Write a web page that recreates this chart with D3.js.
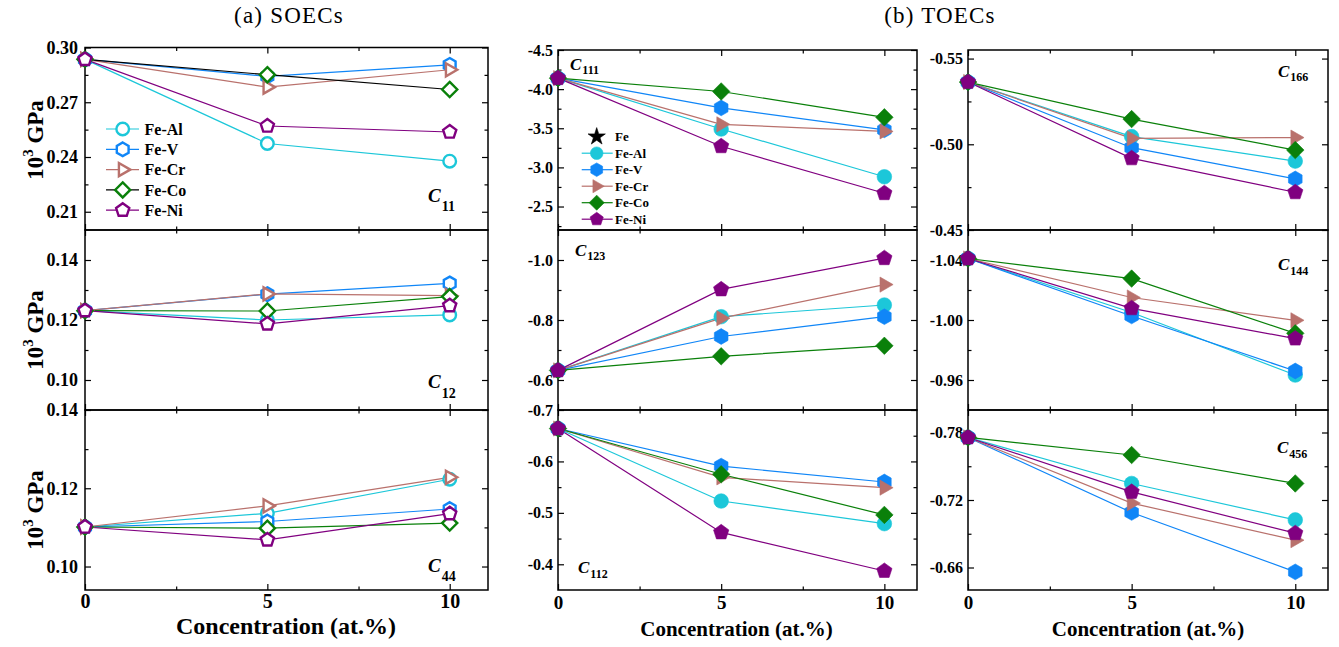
<!DOCTYPE html>
<html>
<head>
<meta charset="utf-8">
<script src="https://cdn.jsdelivr.net/npm/d3@7"></script>
<style>
  body { margin: 0; background: #fff; }
  svg { display: block; }
  .frame { fill: none; stroke: #000; stroke-width: 1.5px; }
  .tick line { stroke: #000; stroke-width: 1.2px; }
  .domain { display: none; }
</style>
</head>
<body>
<svg id="chart" width="1339" height="647"></svg>
<script>
// concentration (at.%) and alloy series
var conc = [0, 5, 10];
var alloys = ["Fe-Al", "Fe-V", "Fe-Cr", "Fe-Co", "Fe-Ni"];
var colors = ["#1cc7d9", "#1086f7", "#b9716c", "#0a800a", "#800080"];
var shapes = ["circle", "hexagon", "triangle", "diamond", "pentagon"];

// SOECs (10^3 GPa), one row per alloy, one value per concentration
var c11 = [[0.2935, 0.2474, 0.2377], [0.2935, 0.2842, 0.2905], [0.2935, 0.2783, 0.2878], [0.2935, 0.2851, 0.2770], [0.2935, 0.2570, 0.2537]];
var c12 = [[0.1231, 0.1200, 0.1217], [0.1231, 0.1286, 0.1322], [0.1231, 0.1287, 0.1281], [0.1231, 0.1230, 0.1278], [0.1231, 0.1187, 0.1248]];
var c44 = [[0.1101, 0.1136, 0.1223], [0.1101, 0.1115, 0.1147], [0.1101, 0.1155, 0.1228], [0.1101, 0.1098, 0.1111], [0.1101, 0.1068, 0.1135]];

// TOECs
var c111 = [[-4.14, -3.49, -2.88], [-4.14, -3.76, -3.48], [-4.14, -3.55, -3.46], [-4.14, -3.97, -3.64], [-4.14, -3.27, -2.67]];
var c123 = [[-0.632, -0.811, -0.850], [-0.632, -0.745, -0.811], [-0.632, -0.806, -0.918], [-0.632, -0.679, -0.714], [-0.632, -0.902, -1.006]];
var c112 = [[-0.664, -0.523, -0.479], [-0.664, -0.591, -0.560], [-0.664, -0.569, -0.549], [-0.664, -0.575, -0.496], [-0.664, -0.462, -0.387]];
var c166 = [[-0.5363, -0.5045, -0.4902], [-0.5363, -0.4980, -0.4798], [-0.5363, -0.5035, -0.5039], [-0.5363, -0.5147, -0.4966], [-0.5363, -0.4918, -0.4720]];
var c144 = [[-1.041, -1.005, -0.9633], [-1.041, -1.0027, -0.9660], [-1.041, -1.015, -0.9998], [-1.041, -1.0276, -0.9911], [-1.041, -1.0078, -0.9876]];
var c456 = [[-0.7756, -0.7347, -0.7023], [-0.7756, -0.7089, -0.6561], [-0.7756, -0.7172, -0.6843], [-0.7756, -0.7600, -0.7347], [-0.7756, -0.7272, -0.6905]];

// tick labels
var xTicks = [0, 5, 10], xMinor = [2.5, 7.5];
var c11Ticks = [0.21, 0.24, 0.27, 0.30], c11Minor = [0.225, 0.255, 0.285];
var c12Ticks = [0.10, 0.12, 0.14], c12Minor = [0.11, 0.13];
var c44Ticks = [0.10, 0.12, 0.14], c44Minor = [0.11, 0.13];
var c111Ticks = [-4.5, -4.0, -3.5, -3.0, -2.5], c111Minor = [-4.25, -3.75, -3.25, -2.75, -2.25];
var c123Ticks = [-1.0, -0.8, -0.6], c123Minor = [-0.9, -0.7];
var c112Ticks = [-0.7, -0.6, -0.5, -0.4], c112Minor = [-0.65, -0.55, -0.45];
var c166Ticks = [-0.55, -0.50, -0.45], c166Minor = [-0.525, -0.475];
var c144Ticks = [-1.04, -1.00, -0.96], c144Minor = [-1.02, -0.98];
var c456Ticks = [-0.78, -0.72, -0.66], c456Minor = [-0.75, -0.69];

var serif = "'Liberation Serif', 'Times New Roman', serif";
var svg = d3.select("#chart");

/// columns: pixel extent + x domain + font sizes
var cols = [
  {x0: 85, x1: 488, xmax: 11.05, open: true, ylab: 18, pad: 7, xlabBase: 608, xlabSize: 20, titleSize: 24, titleBase: 634},
  {x0: 558, x1: 917, xmax: 11, open: false, ylab: 16, pad: 5, xlabBase: 609, xlabSize: 19, titleSize: 21, titleBase: 636},
  {x0: 968, x1: 1328, xmax: 11, open: false, ylab: 16, pad: 5, xlabBase: 609, xlabSize: 19, titleSize: 21, titleBase: 636}
];

var panels = [
  {col: 0, top: 47.5, bot: 230, dom: [0.30, 0.20], data: c11, ticks: c11Ticks, minor: c11Minor, fmt: 2, name: "11", cx: 428, cy: 201.5, coLine: "#000"},
  {col: 0, top: 230, bot: 410, dom: [0.15, 0.09], data: c12, ticks: c12Ticks, minor: c12Minor, fmt: 2, name: "12", cx: 428, cy: 388},
  {col: 0, top: 410, bot: 590, dom: [0.14, 0.094], data: c44, ticks: c44Ticks, minor: c44Minor, fmt: 2, name: "44", cx: 428, cy: 571.5},
  {col: 1, top: 50, bot: 230, dom: [-4.5, -2.2], data: c111, ticks: c111Ticks, minor: c111Minor, fmt: 1, name: "111", cx: 570, cy: 69.5},
  {col: 1, top: 230, bot: 410, dom: [-1.1, -0.5], data: c123, ticks: c123Ticks, minor: c123Minor, fmt: 1, name: "123", cx: 575, cy: 255.5},
  {col: 1, top: 410, bot: 590, dom: [-0.7, -0.35], data: c112, ticks: c112Ticks, minor: c112Minor, fmt: 1, name: "112", cx: 578, cy: 573},
  {col: 2, top: 50, bot: 230, dom: [-0.555, -0.45], data: c166, ticks: c166Ticks, minor: c166Minor, fmt: 2, name: "166", cx: 1278, cy: 76.5},
  {col: 2, top: 230, bot: 410, dom: [-1.06, -0.94], data: c144, ticks: c144Ticks, minor: c144Minor, fmt: 2, name: "144", cx: 1278, cy: 270},
  {col: 2, top: 410, bot: 590, dom: [-0.80, -0.64], data: c456, ticks: c456Ticks, minor: c456Minor, fmt: 2, name: "456", cx: 1277, cy: 453}
];

/// marker shapes as path strings
function polygon(n, r, a0) {
  var p = [];
  for (var k = 0; k < n; k++) {
    var a = a0 + k * 2 * Math.PI / n;
    p.push([r * Math.cos(a), r * Math.sin(a)]);
  }
  return "M" + p.map(function(d){ return d[0].toFixed(2) + "," + d[1].toFixed(2); }).join("L") + "Z";
}
function shapePath(type, r) {
  if (type == "circle") return d3.symbol(d3.symbolCircle, Math.PI * r * r)();
  if (type == "hexagon") return polygon(6, r * 1.08, -Math.PI / 2);
  if (type == "triangle") return polygon(3, r * 1.2, 0);
  if (type == "diamond") return polygon(4, r * 1.2, -Math.PI / 2);
  if (type == "pentagon") return polygon(5, r * 1.1, -Math.PI / 2);
  if (type == "star") return d3.symbol(d3.symbolStar, r * r * 2.2)();
}
function drawMarker(g, type, color, open, r) {
  return g.append("path")
    .attr("d", shapePath(type, r))
    .attr("fill", open ? "#fff" : color)
    .attr("stroke", color)
    .attr("stroke-width", open ? 2.4 : 0.6)
    .attr("stroke-linejoin", "miter");
}

panels.forEach(function(p) {
  var c = cols[p.col];
  var x = d3.scaleLinear().domain([0, c.xmax]).range([c.x0, c.x1]);
  var y = d3.scaleLinear().domain(p.dom).range([p.top, p.bot]);
  var g = svg.append("g");
  var fmt = function(d){ return d.toFixed(p.fmt); };

  /// axes, ticks point inward on all four sides
  var left = g.append("g").attr("transform", "translate(" + c.x0 + ",0)")
    .call(d3.axisLeft(y).tickValues(p.ticks).tickSizeInner(-6).tickSizeOuter(0).tickPadding(c.pad).tickFormat(fmt));
  left.selectAll("text").attr("font-family", serif).attr("font-weight", "bold").attr("font-size", c.ylab).attr("fill", "#000");
  g.append("g").attr("transform", "translate(" + c.x0 + ",0)")
    .call(d3.axisLeft(y).tickValues(p.minor).tickSizeInner(-3.5).tickSizeOuter(0).tickFormat(""));
  g.append("g").attr("transform", "translate(" + c.x1 + ",0)")
    .call(d3.axisRight(y).tickValues(p.ticks).tickSizeInner(-6).tickSizeOuter(0).tickFormat(""));
  g.append("g").attr("transform", "translate(" + c.x1 + ",0)")
    .call(d3.axisRight(y).tickValues(p.minor).tickSizeInner(-3.5).tickSizeOuter(0).tickFormat(""));
  g.append("g").attr("transform", "translate(0," + p.top + ")")
    .call(d3.axisTop(x).tickValues(xTicks).tickSizeInner(-6).tickSizeOuter(0).tickFormat(""));
  g.append("g").attr("transform", "translate(0," + p.top + ")")
    .call(d3.axisTop(x).tickValues(xMinor).tickSizeInner(-3.5).tickSizeOuter(0).tickFormat(""));
  var bottom = g.append("g").attr("transform", "translate(0," + p.bot + ")")
    .call(d3.axisBottom(x).tickValues(xTicks).tickSizeInner(-6).tickSizeOuter(0).tickPadding(10)
      .tickFormat(p.bot == 590 ? d3.format("d") : ""));
  bottom.selectAll("text").attr("font-family", serif).attr("font-weight", "bold").attr("font-size", c.xlabSize).attr("fill", "#000")
    .attr("dy", null).attr("y", c.xlabBase - p.bot);
  g.append("g").attr("transform", "translate(0," + p.bot + ")")
    .call(d3.axisBottom(x).tickValues(xMinor).tickSizeInner(-3.5).tickSizeOuter(0).tickFormat(""));

  g.append("rect").attr("class", "frame")
    .attr("x", c.x0).attr("y", p.top).attr("width", c.x1 - c.x0).attr("height", p.bot - p.top);

  /// series lines
  var line = d3.line().x(function(d, i){ return x(conc[i]); }).y(function(d){ return y(d); });
  p.data.forEach(function(vals, s) {
    var col = colors[s];
    if (s == 3 && p.coLine) col = p.coLine;
    g.append("path").datum(vals).attr("d", line)
      .attr("fill", "none").attr("stroke", col).attr("stroke-width", 1.2);
  });
  /// markers
  p.data.forEach(function(vals, s) {
    vals.forEach(function(v, i) {
      drawMarker(g, shapes[s], colors[s], c.open, c.open ? 6.3 : 7.3)
        .attr("transform", "translate(" + x(conc[i]) + "," + y(v) + ")");
    });
  });

  /// panel label C_ij
  var big = c.open ? 19 : 17, small = c.open ? 14 : 12;
  var t = g.append("text").attr("x", p.cx).attr("y", p.cy)
    .attr("font-family", serif).attr("font-weight", "bold");
  t.append("tspan").attr("font-style", "italic").attr("font-size", big).text("C");
  t.append("tspan").attr("font-size", small).attr("dx", 1).attr("dy", c.open ? 9.5 : 4.5).text(p.name);
});

/// x axis titles
cols.forEach(function(c) {
  svg.append("text").attr("x", c.open ? 286 : (c.x0 + c.x1) / 2 + (c.x0 == 558 ? -1 : 0))
    .attr("y", c.titleBase).attr("text-anchor", "middle")
    .attr("font-family", serif).attr("font-weight", "bold").attr("font-size", c.titleSize)
    .text("Concentration (at.%)");
});

/// y axis titles (left column)
[140, 330, 510].forEach(function(cy) {
  var t = svg.append("text").attr("transform", "translate(43," + cy + ") rotate(-90)")
    .attr("text-anchor", "middle")
    .attr("font-family", serif).attr("font-weight", "bold").attr("font-size", 23);
  t.append("tspan").text("10");
  t.append("tspan").attr("font-size", 15).attr("dy", -10).text("3");
  t.append("tspan").attr("dy", 10).text("\u00a0GPa");
});

/// top titles
svg.append("text").attr("x", 289).attr("y", 23).attr("text-anchor", "middle")
  .attr("font-family", serif).attr("font-size", 23).attr("letter-spacing", 1.2).text("(a) SOECs");
svg.append("text").attr("x", 940).attr("y", 23).attr("text-anchor", "middle")
  .attr("font-family", serif).attr("font-size", 23).attr("letter-spacing", 1.2).text("(b) TOECs");

/// legend, SOECs
var legA = [129, 149.3, 169.6, 189.9, 210.2];
alloys.forEach(function(a, s) {
  var g = svg.append("g").attr("transform", "translate(0," + legA[s] + ")");
  g.append("line").attr("x1", 106).attr("x2", 139).attr("stroke", s == 3 ? "#000" : colors[s]).attr("stroke-width", 1.2);
  drawMarker(g, shapes[s], colors[s], true, 6.3).attr("transform", "translate(122.7,0)");
  g.append("text").attr("x", 144.5).attr("dy", "0.35em")
    .attr("font-family", serif).attr("font-weight", "bold").attr("font-size", 16).text(a);
});

/// legend, TOECs
var legB = [136.7, 153.2, 169.7, 186.2, 202.7, 219.2];
var gFe = svg.append("g").attr("transform", "translate(0," + legB[0] + ")");
drawMarker(gFe, "star", "#000", false, 6.5).attr("transform", "translate(596.7,0)");
gFe.append("text").attr("x", 615).attr("dy", "0.35em")
  .attr("font-family", serif).attr("font-weight", "bold").attr("font-size", 13).text("Fe");
alloys.forEach(function(a, s) {
  var g = svg.append("g").attr("transform", "translate(0," + legB[s + 1] + ")");
  g.append("line").attr("x1", 581.7).attr("x2", 612.7).attr("stroke", colors[s]).attr("stroke-width", 1.2);
  drawMarker(g, shapes[s], colors[s], false, 6.3).attr("transform", "translate(596.7,0)");
  g.append("text").attr("x", 615).attr("dy", "0.35em")
    .attr("font-family", serif).attr("font-weight", "bold").attr("font-size", 13).text(a);
});
</script>
</body>
</html>
